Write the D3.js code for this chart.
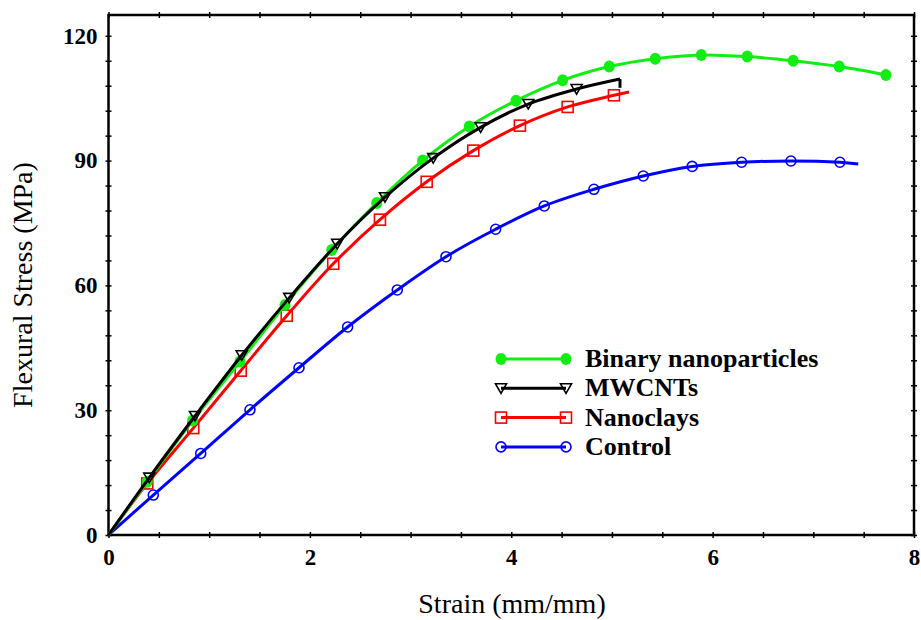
<!DOCTYPE html>
<html>
<head>
<meta charset="utf-8">
<script src="https://cdn.jsdelivr.net/npm/d3@7"></script>
<style>
  body { margin: 0; background: #fff; }
  svg { font-family: "Liberation Serif", "Times New Roman", serif; }
  .tick-label { font-weight: bold; font-size: 23px; font-family: "Liberation Serif", "Times New Roman", serif; }
  .legend-text { font-weight: bold; font-size: 26px; }
  .axis-title { font-size: 28px; }
</style>
</head>
<body>
<svg width="921" height="620"></svg>
<script>
// Marker points (strain, stress)
const binaryX = [0.385, 0.836, 1.306, 1.753, 2.217, 2.663, 3.120, 3.583, 4.047, 4.510, 4.973, 5.430, 5.887, 6.344, 6.800, 7.257, 7.721];
const binaryY = [12.8, 27.5, 41.7, 55.3, 68.5, 79.8, 90.0, 98.2, 104.4, 109.3, 112.6, 114.5, 115.4, 115.0, 114.0, 112.6, 110.6];

const mwcntX = [0.405, 0.859, 1.323, 1.795, 2.272, 2.746, 3.225, 3.696, 4.169, 4.649];
const mwcntY = [13.8, 28.6, 43.2, 57.0, 70.0, 81.2, 90.6, 98.0, 103.6, 107.2];
const mwcntEnd = [[5.080, 109.6], [5.080, 107.5]];

const claysX = [0.385, 0.842, 1.313, 1.770, 2.232, 2.696, 3.160, 3.623, 4.086, 4.560, 5.020];
const claysY = [12.4, 25.7, 39.5, 52.7, 65.2, 75.8, 84.9, 92.4, 98.4, 102.9, 105.7];
const claysEnd = [[5.17, 106.5]];

const controlX = [0.445, 0.916, 1.405, 1.892, 2.375, 2.868, 3.352, 3.845, 4.328, 4.821, 5.311, 5.797, 6.288, 6.778, 7.264];
const controlY = [9.6, 19.6, 30.1, 40.2, 50.0, 58.9, 66.9, 73.5, 79.1, 83.1, 86.3, 88.6, 89.6, 89.9, 89.6];
const controlEnd = [[7.446, 89.2]];

const seriesNames = ["Binary nanoparticles", "MWCNTs", "Nanoclays", "Control"];
const xTickLabels = [0, 2, 4, 6, 8];
const yTickLabels = [0, 30, 60, 90, 120];

const svg = d3.select("svg");

const x = d3.scaleLinear().domain([0, 8]).range([108.5, 914]);
const y = d3.scaleLinear().domain([0, 125]).range([535, 15]);

const zip = (xs, ys) => xs.map((v, i) => [v, ys[i]]);

const series = [
    { name: seriesNames[0], color: "#11ee11", marker: "dot", pts: zip(binaryX, binaryY), end: [] },
    { name: seriesNames[1], color: "#000000", marker: "tri", pts: zip(mwcntX, mwcntY), end: mwcntEnd },
    { name: seriesNames[2], color: "#ff0000", marker: "square", pts: zip(claysX, claysY), end: claysEnd },
    { name: seriesNames[3], color: "#0000ff", marker: "circle", pts: zip(controlX, controlY), end: controlEnd }
];

// frame
svg.append("rect")
    .attr("x", x(0)).attr("y", y(125))
    .attr("width", x(8) - x(0)).attr("height", y(0) - y(125))
    .attr("fill", "none").attr("stroke", "#000").attr("stroke-width", 2.5);

// ticks on all four sides
const xMinor = d3.range(0, 8.001, 0.5);
const yMinor = d3.range(0, 120.001, 6);

function tidy(g) {
    g.attr("font-family", null).attr("font-size", null);
    g.select(".domain").remove();
    g.selectAll(".tick line").attr("stroke", "#000").attr("stroke-width", 1.5);
    g.selectAll("text").attr("class", "tick-label").attr("fill", "#000");
}

svg.append("g")
    .attr("transform", `translate(0,${y(0)})`)
    .call(d3.axisBottom(x).tickValues(xMinor).tickSize(3).tickPadding(11)
        .tickFormat(d => xTickLabels.includes(d) ? d : ""))
    .call(tidy)
    .call(g => g.selectAll(".tick line").attr("y1", -3));

svg.append("g")
    .attr("transform", `translate(0,${y(125)})`)
    .call(d3.axisTop(x).tickValues(xMinor).tickSize(3).tickFormat(""))
    .call(tidy)
    .call(g => g.selectAll(".tick line").attr("y1", 3));

svg.append("g")
    .attr("transform", `translate(${x(0)},0)`)
    .call(d3.axisLeft(y).tickValues(yMinor).tickSize(3).tickPadding(8)
        .tickFormat(d => yTickLabels.includes(d) ? d : ""))
    .call(tidy)
    .call(g => g.selectAll(".tick line").attr("x1", 3));

svg.append("g")
    .attr("transform", `translate(${x(8)},0)`)
    .call(d3.axisRight(y).tickValues(yMinor).tickSize(3).tickFormat(""))
    .call(tidy)
    .call(g => g.selectAll(".tick line").attr("x1", -3));

// axis titles
svg.append("text")
    .attr("class", "axis-title")
    .attr("x", 512).attr("y", 613)
    .attr("text-anchor", "middle")
    .text("Strain (mm/mm)");

svg.append("text")
    .attr("class", "axis-title")
    .attr("transform", "translate(32,285) rotate(-90)")
    .attr("text-anchor", "middle")
    .text("Flexural Stress (MPa)");

// markers
function drawMarker(g, type, color, cx, cy) {
    if (type === "dot") {
        g.append("ellipse").attr("cx", cx).attr("cy", cy).attr("rx", 5.5).attr("ry", 6)
            .attr("fill", color);
    } else if (type === "circle") {
        g.append("circle").attr("cx", cx).attr("cy", cy).attr("r", 5)
            .attr("fill", "none").attr("stroke", color).attr("stroke-width", 1.6);
    } else if (type === "square") {
        g.append("rect").attr("x", cx - 5.5).attr("y", cy - 5.5).attr("width", 11).attr("height", 11)
            .attr("fill", "none").attr("stroke", color).attr("stroke-width", 1.6);
    } else if (type === "tri") {
        g.append("path")
            .attr("d", `M${cx - 5.5},${cy - 4.5}L${cx + 5.5},${cy - 4.5}L${cx},${cy + 5}Z`)
            .attr("fill", "none").attr("stroke", color).attr("stroke-width", 1.6);
    }
}

const smooth = d3.line()
    .x(d => x(d[0]))
    .y(d => y(d[1]))
    .curve(d3.curveCatmullRom.alpha(0.5));

const straight = d3.line()
    .x(d => x(d[0]))
    .y(d => y(d[1]));

// draw from back to front: control, nanoclays, binary, mwcnts
const order = [3, 2, 0, 1];
order.forEach(i => {
    const s = series[i];
    const g = svg.append("g");
    const curvePts = [[0, 0]].concat(s.pts, s.end.slice(0, 1));
    g.append("path")
        .datum(curvePts)
        .attr("d", smooth)
        .attr("fill", "none")
        .attr("stroke", s.color)
        .attr("stroke-width", 3)
        .attr("stroke-linejoin", "round");
    // final drop (fracture) drawn straight
    if (s.end.length > 1) {
        g.append("path")
            .datum(s.end)
            .attr("d", straight)
            .attr("fill", "none")
            .attr("stroke", s.color)
            .attr("stroke-width", 3);
    }
    s.pts.forEach(p => drawMarker(g, s.marker, s.color, x(p[0]), y(p[1])));
});

// legend
const legend = svg.append("g");
series.forEach((s, i) => {
    const ly = 359 + i * 29.3;
    legend.append("line")
        .attr("x1", 501).attr("x2", 566)
        .attr("y1", ly).attr("y2", ly)
        .attr("stroke", s.color).attr("stroke-width", 3);
    drawMarker(legend, s.marker, s.color, 501, ly);
    drawMarker(legend, s.marker, s.color, 566, ly);
    legend.append("text")
        .attr("class", "legend-text")
        .attr("x", 585).attr("y", ly + 8)
        .text(s.name);
});
</script>
</body>
</html>
